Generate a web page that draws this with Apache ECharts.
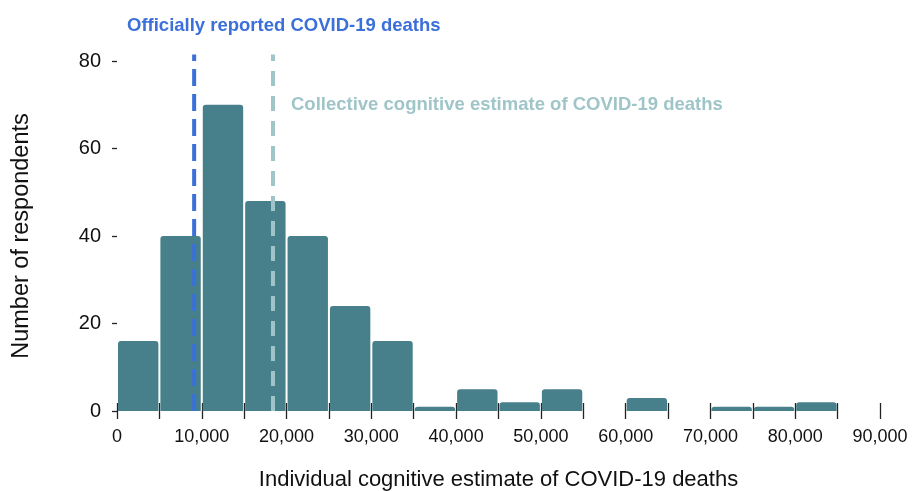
<!DOCTYPE html>
<html><head><meta charset="utf-8">
<script src="https://cdn.jsdelivr.net/npm/echarts@6/dist/echarts.min.js"></script>
<style>html,body{margin:0;padding:0;background:#fff}#c{width:916px;height:491px}</style>
</head><body><div id="c"></div>
<script>
const binStarts = [0,5000,10000,15000,20000,25000,30000,35000,40000,45000,50000,55000,60000,65000,70000,75000,80000,85000];
const binWidth = 5000;
const counts = [16,40,70,48,40,24,16,1,5,2,5,0,3,0,1,1,2,0];
const yTicks = [0,20,40,60,80];
const officialDeaths = 9100;
const collectiveEstimate = 18400;
const lineTop = 81.5;

const bins = binStarts.map((s,i)=>[s, s+binWidth, counts[i]]).filter(d=>d[2]>0);
const chart = echarts.init(document.getElementById('c'), null, {renderer:'canvas'});
const font = 'Liberation Sans, Arial, Helvetica, sans-serif';
chart.setOption({
  animation:false,
  grid:{left:117, right:36, top:61, bottom:80, containLabel:false, outerBoundsMode:'none'},
  xAxis:{type:'value', min:0, max:90000, interval:5000,
    name:'Individual cognitive estimate of COVID-19 deaths', nameLocation:'middle', nameGap:66,
    nameTextStyle:{fontFamily:font, fontSize:22, color:'#111'},
    offset:-8,
    axisLine:{show:false}, splitLine:{show:false},
    axisTick:{show:true, length:16, lineStyle:{color:'#222', width:1.3}},
    axisLabel:{margin:25, fontFamily:font, fontSize:18, color:'#111',
      formatter:v=> v%10000===0 ? (v===0?'0':v.toLocaleString('en-US')) : ''}},
  yAxis:{type:'value', min:0, max:80, interval:20,
    name:'Number of respondents', nameLocation:'middle', nameGap:83,
    nameTextStyle:{fontFamily:font, fontSize:23.5, color:'#111'},
    axisLine:{show:false}, splitLine:{show:false},
    axisTick:{show:true, length:5, lineStyle:{color:'#222', width:1.3}},
    axisLabel:{margin:16, fontFamily:font, fontSize:20, color:'#111'}},
  series:[
    {type:'custom', data:bins, encode:{x:[0,1], y:2},
     renderItem:(params, api)=>{
       const p0 = api.coord([api.value(0), 0]);
       const p1 = api.coord([api.value(1), api.value(2)]);
       return {type:'rect', shape:{x:p0[0]+1, y:p1[1], width:p1[0]-p0[0]-2, height:p0[1]-p1[1], r:[3,3,0,0]},
         style:{fill:'#47808b'}};
     }, z:2},
    {type:'line', data:[[officialDeaths,0],[officialDeaths,lineTop]], symbol:'none', clip:false, z:3,
     lineStyle:{color:'#3b6fd9', width:4, type:[17,8]}},
    {type:'line', data:[[collectiveEstimate,0],[collectiveEstimate,lineTop]], symbol:'none', clip:false, z:3,
     lineStyle:{color:'#9fc5c9', width:4, type:[15,10]}}
  ],
  title:[
    {text:'Officially reported COVID-19 deaths', left:122, top:11,
     textStyle:{fontFamily:font, fontSize:18.5, fontWeight:'bold', color:'#3b6fd9'}},
    {text:'Collective cognitive estimate of COVID-19 deaths', left:286, top:90,
     textStyle:{fontFamily:font, fontSize:18.5, fontWeight:'bold', color:'#9fc5c9'}}
  ]
});
</script></body></html>
